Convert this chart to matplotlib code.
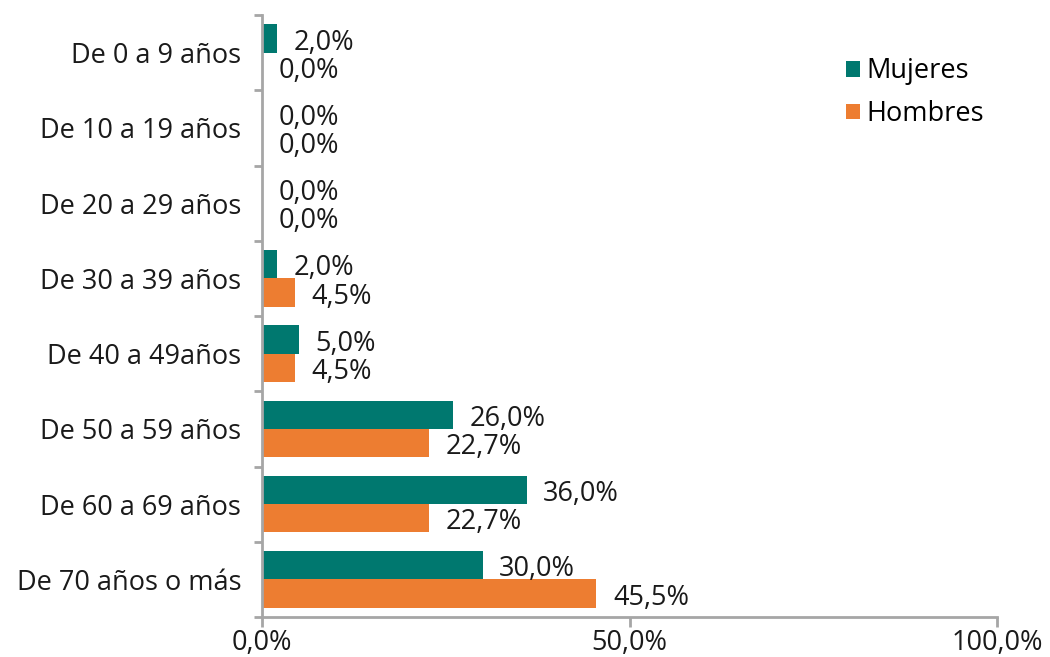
import matplotlib
matplotlib.use("Agg")
import matplotlib.pyplot as plt
import numpy as np

categories = ["De 0 a 9 años", "De 10 a 19 años", "De 20 a 29 años", "De 30 a 39 años",
              "De 40 a 49años", "De 50 a 59 años", "De 60 a 69 años", "De 70 años o más"]
mujeres = [2.0, 0.0, 0.0, 2.0, 5.0, 26.0, 36.0, 30.0]
hombres = [0.0, 0.0, 0.0, 4.5, 4.5, 22.7, 22.7, 45.5]
xticks = [0, 50, 100]
xticklabels = ["0,0%", "50,0%", "100,0%"]

plt.rcParams['font.family'] = ['Open Sans', 'DejaVu Sans']
teal = "#00786F"
orange = "#ED7D31"
axcol = "#A6A6A6"
txt = "#1A1A1A"
fs = 19.5

fig = plt.figure(figsize=(10.5, 6.57), dpi=100)
ax = fig.add_axes([262/1050, 1-617/657, (997-262)/1050, (617-15)/657])

y = np.arange(len(categories))
h = 0.375
ax.barh(y - h/2, mujeres, height=h, color=teal, label="Mujeres")
ax.barh(y + h/2, hombres, height=h, color=orange, label="Hombres")

ax.set_xlim(0, 100)
ax.set_ylim(len(categories) - 0.5, -0.5)
ax.set_xticks(xticks)
ax.set_xticklabels(xticklabels, fontsize=fs, color=txt)
ax.set_yticks(np.arange(len(categories) + 1) - 0.5, minor=False)
ax.set_yticklabels([])
ax.set_yticks(y, minor=True)
ax.set_yticklabels(categories, minor=True, fontsize=fs, color=txt)
ax.tick_params(axis='y', which='minor', length=0, pad=15)
ax.tick_params(axis='y', which='major', length=6, direction='out', color=axcol, width=2)
ax.tick_params(axis='x', length=7, color=axcol, width=2, pad=2)

for s in ["top", "right"]:
    ax.spines[s].set_visible(False)
for s in ["left", "bottom"]:
    ax.spines[s].set_color(axcol)
    ax.spines[s].set_linewidth(2)

def fmt(v):
    return f"{v:.1f}%".replace(".", ",")

for i in range(len(categories)):
    ax.annotate(fmt(mujeres[i]), xy=(mujeres[i], y[i] - h/2), xytext=(12, -3),
                textcoords="offset points", va="center", ha="left", fontsize=fs, color=txt)
    ax.annotate(fmt(hombres[i]), xy=(hombres[i], y[i] + h/2), xytext=(12, -3),
                textcoords="offset points", va="center", ha="left", fontsize=fs, color=txt)

leg = ax.legend(loc="upper left", bbox_to_anchor=(0.762, 0.97), frameon=False, fontsize=fs,
                handlelength=0.5, handleheight=0.5, handletextpad=0.25, labelspacing=0.55)

fig.savefig("out.png", dpi=100)
